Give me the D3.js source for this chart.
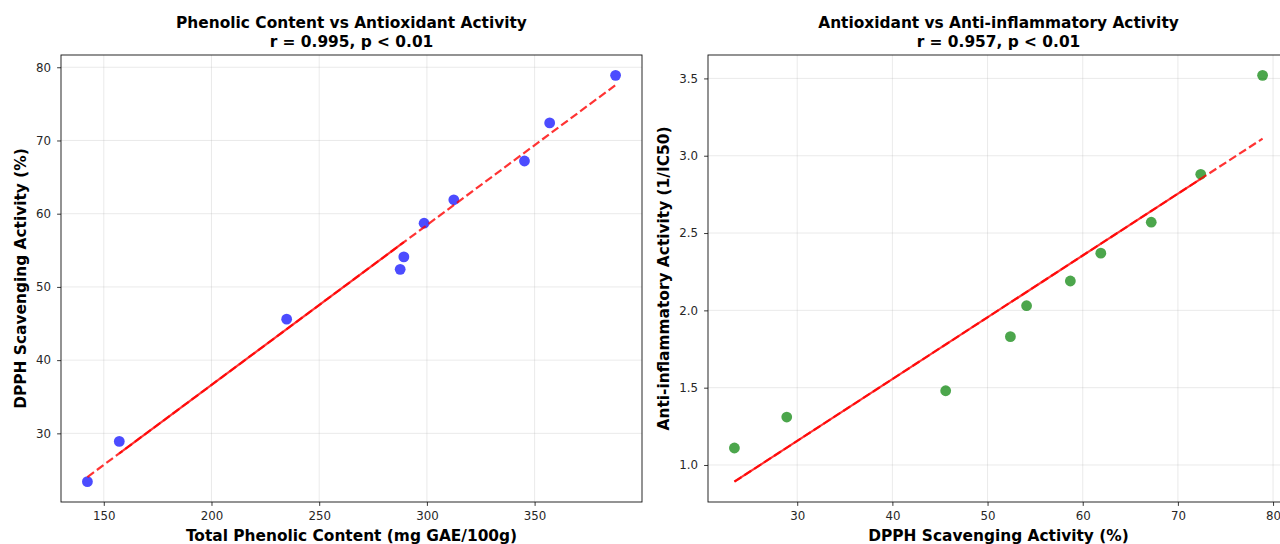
<!DOCTYPE html>
<html>
<head>
<meta charset="utf-8">
<script src="https://cdn.jsdelivr.net/npm/d3@7"></script>
<style>
  html, body { margin: 0; padding: 0; background: #fff; }
  svg { display: block; font-family: "DejaVu Sans", sans-serif; }
</style>
</head>
<body>
<svg id="chart" width="1280" height="544"></svg>
<script>
// ---- Data ----
const phenolic   = [142.4, 157.2, 234.9, 287.6, 289.3, 298.7, 312.5, 345.3, 357.0, 387.6];
const dpph       = [23.4, 28.9, 45.6, 52.4, 54.1, 58.7, 61.9, 67.2, 72.4, 78.9];
const antiInflam = [1.11, 1.31, 1.48, 1.83, 2.03, 2.19, 2.37, 2.57, 2.88, 3.52];

const leftTitle = ["Phenolic Content vs Antioxidant Activity", "r = 0.995, p < 0.01"];
const rightTitle = ["Antioxidant vs Anti-inflammatory Activity", "r = 0.957, p < 0.01"];
const leftXLabel = "Total Phenolic Content (mg GAE/100g)";
const leftYLabel = "DPPH Scavenging Activity (%)";
const rightXLabel = "DPPH Scavenging Activity (%)";
const rightYLabel = "Anti-inflammatory Activity (1/IC50)";

const leftXTicks = [150, 200, 250, 300, 350];
const leftYTicks = [30, 40, 50, 60, 70, 80];
const rightXTicks = [30, 40, 50, 60, 70, 80];
const rightYTicks = [1.0, 1.5, 2.0, 2.5, 3.0, 3.5];

// index span (in sorted-x order) where the overlapping dashed trend segments read as solid
const leftSolidSpan = [1, 4];
const rightSolidSpan = [0, 8];

// ---- Drawing ----
const svg = d3.select("#chart");

function linreg(xs, ys) {
  const mx = d3.mean(xs), my = d3.mean(ys);
  let sxy = 0, sxx = 0;
  xs.forEach((x, i) => { sxy += (x - mx) * (ys[i] - my); sxx += (x - mx) * (x - mx); });
  const b = sxy / sxx;
  return { slope: b, intercept: my - b * mx };
}

function padDomain(vals) {
  const [lo, hi] = d3.extent(vals);
  const m = (hi - lo) * 0.05;
  return [lo - m, hi + m];
}

function panel(opts) {
  const { x0, x1, y0, y1, xs, ys, color, title, xLabel, yLabel, xTicks, yTicks, yFmt, solidSpan, yLabelX } = opts;
  const fit = linreg(xs, ys);
  const xExt = d3.extent(xs);
  const fitYs = xExt.map(v => fit.intercept + fit.slope * v);

  const x = d3.scaleLinear().domain(padDomain(xs)).range([x0, x1]);
  const y = d3.scaleLinear().domain(padDomain(ys.concat(fitYs))).range([y1, y0]);

  const g = svg.append("g");

  // grid
  g.append("g").selectAll("line").data(xTicks).join("line")
    .attr("x1", d => x(d)).attr("x2", d => x(d))
    .attr("y1", y0).attr("y2", y1)
    .attr("stroke", "#b0b0b0").attr("stroke-opacity", 0.3).attr("stroke-width", 0.9);
  g.append("g").selectAll("line").data(yTicks).join("line")
    .attr("x1", x0).attr("x2", x1)
    .attr("y1", d => y(d)).attr("y2", d => y(d))
    .attr("stroke", "#b0b0b0").attr("stroke-opacity", 0.3).attr("stroke-width", 0.9);

  // points
  g.append("g").selectAll("circle").data(xs.map((v, i) => [v, ys[i]])).join("circle")
    .attr("cx", d => x(d[0])).attr("cy", d => y(d[1])).attr("r", 5.4)
    .attr("fill", color).attr("fill-opacity", 0.7);

  // trend line
  const sortedX = xs.slice().sort((a, b) => a - b);
  const line = d3.line().x(d => x(d)).y(d => y(fit.intercept + fit.slope * d));
  g.append("path").attr("d", line(xExt))
    .attr("fill", "none").attr("stroke", "red").attr("stroke-opacity", 0.8)
    .attr("stroke-width", 2.2).attr("stroke-dasharray", "8.2,3.6");
  g.append("path").attr("d", line([sortedX[solidSpan[0]], sortedX[solidSpan[1]]]))
    .attr("fill", "none").attr("stroke", "red").attr("stroke-opacity", 0.8)
    .attr("stroke-width", 2.2);

  // axes
  const xAxis = d3.axisBottom(x).tickValues(xTicks).tickSize(3.9).tickPadding(5.5).tickFormat(d3.format("d"));
  const yAxis = d3.axisLeft(y).tickValues(yTicks).tickSize(3.9).tickPadding(6).tickFormat(d3.format(yFmt));
  const gx = g.append("g").attr("transform", `translate(0,${y1})`).call(xAxis);
  const gy = g.append("g").attr("transform", `translate(${x0},0)`).call(yAxis);
  [gx, gy].forEach(a => {
    a.select(".domain").remove();
    a.selectAll(".tick line").attr("stroke", "#222").attr("stroke-width", 0.9);
    a.selectAll(".tick text").attr("fill", "#262626").style("font-size", "11.8px")
      .style("font-family", "DejaVu Sans, sans-serif");
  });

  // frame
  g.append("rect").attr("x", x0).attr("y", y0).attr("width", x1 - x0).attr("height", y1 - y0)
    .attr("fill", "none").attr("stroke", "#111").attr("stroke-width", 0.9);

  const cx = (x0 + x1) / 2;
  // title
  const t = g.append("text").attr("text-anchor", "middle")
    .style("font-size", "15.4px").style("font-weight", "bold").attr("fill", "#000");
  t.append("tspan").attr("x", cx).attr("y", 28.3).text(title[0]);
  t.append("tspan").attr("x", cx).attr("y", 46.8).text(title[1]);

  // labels
  g.append("text").attr("x", cx).attr("y", 541).attr("text-anchor", "middle")
    .style("font-size", "15.4px").style("font-weight", "bold").text(xLabel);
  g.append("text").attr("transform", `translate(${yLabelX},${(y0 + y1) / 2}) rotate(-90)`)
    .attr("text-anchor", "middle")
    .style("font-size", "15.4px").style("font-weight", "bold").text(yLabel);
}

panel({
  x0: 61, x1: 642, y0: 55, y1: 502,
  xs: phenolic, ys: dpph, color: "blue",
  title: leftTitle, xLabel: leftXLabel, yLabel: leftYLabel,
  xTicks: leftXTicks, yTicks: leftYTicks, yFmt: "d",
  solidSpan: leftSolidSpan, yLabelX: 26
});
panel({
  x0: 708, x1: 1289, y0: 55, y1: 502,
  xs: dpph, ys: antiInflam, color: "green",
  title: rightTitle, xLabel: rightXLabel, yLabel: rightYLabel,
  xTicks: rightXTicks, yTicks: rightYTicks, yFmt: ".1f",
  solidSpan: rightSolidSpan, yLabelX: 668.5
});
</script>
</body>
</html>
